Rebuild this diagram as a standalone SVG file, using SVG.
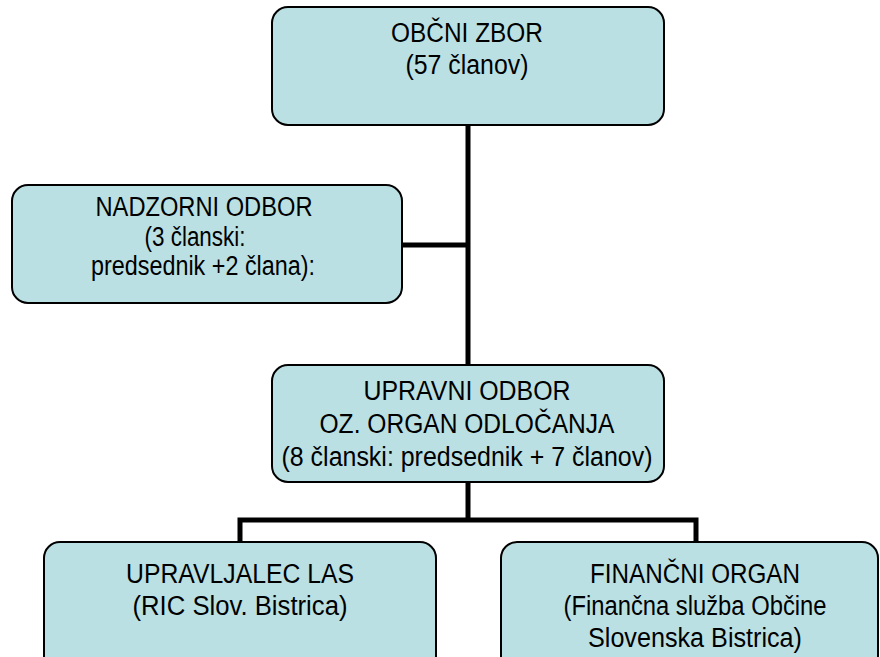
<svg xmlns="http://www.w3.org/2000/svg" width="880" height="657" viewBox="0 0 880 657">
<style>
.box{fill:#BBE0E3;stroke:#000;stroke-width:2}
.conn{fill:none;stroke:#000;stroke-width:5}
text{font-family:"Liberation Sans",Arial,sans-serif;font-size:27px;fill:#000;text-anchor:middle}
</style>
<rect width="880" height="657" fill="#fff"/>
<g id="connectors">
<path class="conn" d="M468 125V365"/>
<path class="conn" d="M402 245H468"/>
<path class="conn" d="M468 482V520"/>
<path class="conn" d="M240 542V520H696V542"/>
</g>
<g id="obcni-zbor">
<rect class="box" x="272" y="7" width="392" height="118" rx="16"/>
<text x="467" y="42" textLength="152" lengthAdjust="spacingAndGlyphs">OBČNI ZBOR</text>
<text x="467" y="74" textLength="123" lengthAdjust="spacingAndGlyphs">(57 članov)</text>
</g>
<g id="nadzorni-odbor">
<rect class="box" x="12" y="185" width="390" height="118" rx="16"/>
<text x="204" y="216" textLength="217" lengthAdjust="spacingAndGlyphs">NADZORNI ODBOR</text>
<text x="195" y="246" textLength="101" lengthAdjust="spacingAndGlyphs">(3 članski:</text>
<text x="203" y="275" textLength="224" lengthAdjust="spacingAndGlyphs">predsednik +2 člana):</text>
</g>
<g id="upravni-odbor">
<rect class="box" x="272" y="365" width="392" height="117" rx="16"/>
<text x="467" y="400" textLength="207" lengthAdjust="spacingAndGlyphs">UPRAVNI ODBOR</text>
<text x="467" y="433" textLength="295" lengthAdjust="spacingAndGlyphs">OZ. ORGAN ODLOČANJA</text>
<text x="467" y="466" textLength="371" lengthAdjust="spacingAndGlyphs">(8 članski: predsednik + 7 članov)</text>
</g>
<g id="upravljalec-las">
<rect class="box" x="44" y="542" width="392" height="130" rx="16"/>
<text x="240" y="583" textLength="228" lengthAdjust="spacingAndGlyphs">UPRAVLJALEC LAS</text>
<text x="240" y="615" textLength="215" lengthAdjust="spacingAndGlyphs">(RIC Slov. Bistrica)</text>
</g>
<g id="financni-organ">
<rect class="box" x="501" y="542" width="377" height="130" rx="16"/>
<text x="695" y="583" textLength="210" lengthAdjust="spacingAndGlyphs">FINANČNI ORGAN</text>
<text x="695" y="615" textLength="263" lengthAdjust="spacingAndGlyphs">(Finančna služba Občine</text>
<text x="695" y="647" textLength="214" lengthAdjust="spacingAndGlyphs">Slovenska Bistrica)</text>
</g>
</svg>
